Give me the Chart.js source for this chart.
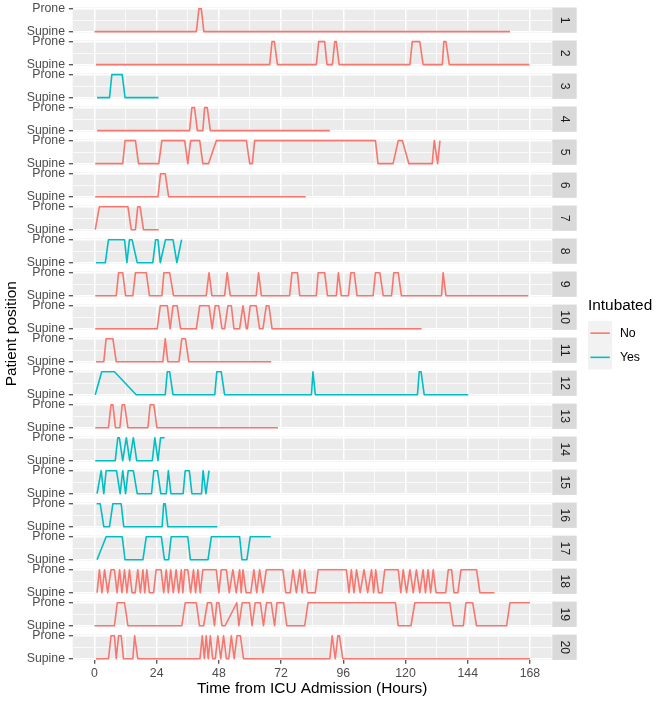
<!DOCTYPE html>
<html><head><meta charset="utf-8">
<script src="https://cdn.jsdelivr.net/npm/chart.js@4"></script>
<style>html,body{margin:0;padding:0;background:#fff}canvas{display:block}</style>
</head><body>
<canvas id="c" width="668" height="705"></canvas>
<script>
// ---------- data ----------
const patients = ['1','2','3','4','5','6','7','8','9','10','11','12','13','14','15','16','17','18','19','20'];
const intubated = ['No','No','Yes','No','No','No','No','Yes','No','No','No','Yes','No','Yes','Yes','Yes','Yes','No','No','No'];
const positionLevels = ['Supine','Prone'];
const hourTicks = [0,24,48,72,96,120,144,168];
const minorHourTicks = [12,36,60,84,108,132,156];
const groupLevels = ['No','Yes'];
const groupColors = ['#F8766D','#00BFC4'];

// [hours from ICU admission, position index (0 = Supine, 1 = Prone)]
const pos1 = [[0,0],[39.3,0],[40.3,1],[41.2,1],[42.2,0],[160.3,0]];
const pos2 = [[0.6,0],[67.6,0],[68.5,1],[69.4,1],[70.6,0],[85.6,0],[86.5,1],[88.8,1],[89.7,0],[91.8,0],[92.7,1],[93.3,1],[94.4,0],[121.7,0],[122.6,1],[125.5,1],[126.8,0],[134.2,0],[134.8,1],[135.6,1],[136.9,0],[167.8,0]];
const pos3 = [[1.0,0],[5.8,0],[6.7,1],[10.7,1],[11.8,0],[24.7,0]];
const pos4 = [[1.0,0],[36.7,0],[37.6,1],[38.6,1],[39.7,0],[41.8,0],[42.5,1],[43.5,1],[44.7,0],[90.8,0]];
const pos5 = [[0.3,0],[10.9,0],[11.8,1],[15.8,1],[17.0,0],[24.8,0],[26.0,1],[34.8,1],[36.0,0],[37.1,1],[40.6,1],[41.8,0],[44.0,0],[47.0,1],[58.6,1],[59.9,0],[60.9,0],[61.8,1],[108.4,1],[109.4,0],[115.2,0],[117.2,1],[118.8,1],[121.3,0],[130.3,0],[131.1,1],[132.4,0],[133.3,1]];
const pos6 = [[0.3,0],[24.5,0],[25.5,1],[27.3,1],[28.6,0],[81.5,0]];
const pos7 = [[0.3,0],[1.9,1],[12.9,1],[14.2,0],[15.8,0],[16.7,1],[17.6,1],[18.9,0],[24.8,0]];
const pos8 = [[0.6,0],[4.2,0],[5.4,1],[11.6,1],[12.5,0],[13.5,1],[14.5,1],[16.5,0],[22.5,0],[23.6,1],[24.5,1],[25.4,0],[27.4,1],[30.3,1],[31.8,0],[33.6,1]];
const pos9 = [[0.3,0],[8.4,0],[9.3,1],[10.9,1],[12.0,0],[14.8,0],[15.8,1],[20.0,1],[21.2,0],[26.0,0],[26.8,1],[29.0,1],[30.5,0],[43.1,0],[44.2,1],[45.3,0],[50.2,0],[51.2,1],[52.4,0],[62.4,0],[63.3,1],[64.4,0],[75.3,0],[76.2,1],[78.3,1],[79.2,0],[85.6,0],[86.3,1],[88.8,1],[89.9,0],[93.3,0],[94.1,1],[95.2,0],[98.0,0],[98.9,1],[100.2,1],[101.3,0],[107.5,0],[108.4,1],[110.1,1],[111.4,0],[114.6,0],[115.5,1],[117.2,1],[118.4,0],[133.9,0],[134.5,1],[135.6,0],[167.4,0]];
const pos10 = [[0.3,0],[24.2,0],[25.4,1],[28.1,1],[29.2,0],[30.3,1],[31.9,1],[33.2,0],[39.3,0],[40.6,1],[44.2,1],[45.4,0],[46.6,1],[47.9,1],[49.2,0],[50.2,0],[51.5,1],[52.8,1],[53.8,0],[56.0,0],[57.3,1],[58.6,0],[59.0,0],[60.1,1],[62.4,1],[63.7,0],[65.0,0],[66.3,1],[67.3,1],[68.5,0],[126.2,0]];
const pos11 = [[0.6,0],[3.6,0],[4.5,1],[7.1,1],[8.4,0],[26.4,0],[27.3,1],[28.3,0],[32.6,0],[33.7,1],[35.1,1],[36.4,0],[68.2,0]];
const pos12 = [[0.3,0],[2.8,1],[7.7,1],[16.1,0],[27.3,0],[28.1,1],[29.0,1],[30.3,0],[46.4,0],[47.2,1],[48.9,1],[50.2,0],[83.7,0],[84.3,1],[85.2,0],[124.6,0],[125.3,1],[126.0,1],[127.2,0],[144.2,0]];
const pos13 = [[0.3,0],[5.4,0],[6.4,1],[7.1,1],[8.1,0],[9.8,0],[10.7,1],[11.6,1],[12.9,0],[20.6,0],[21.5,1],[22.9,1],[24.1,0],[70.8,0]];
const pos14 = [[0.3,0],[8.0,0],[9.0,1],[9.6,1],[10.9,0],[12.3,1],[13.6,0],[15.0,1],[16.3,0],[22.3,0],[23.3,1],[24.5,0],[25.5,1],[27.1,1]];
const pos15 = [[1.0,0],[2.6,1],[3.6,0],[4.5,1],[8.5,1],[9.9,0],[10.9,1],[12.0,0],[13.0,1],[15.0,1],[16.5,0],[22.0,0],[22.9,1],[24.3,1],[25.6,0],[27.7,0],[28.5,1],[29.5,0],[34.2,0],[35.0,1],[36.6,1],[37.6,0],[41.3,0],[41.9,1],[43.0,0],[44.2,1]];
const pos16 = [[0.8,1],[2.2,1],[3.6,0],[5.8,0],[7.1,1],[10.3,1],[11.3,0],[26.1,0],[26.7,1],[27.3,1],[28.3,0],[47.4,0]];
const pos17 = [[1.0,0],[4.5,1],[10.7,1],[11.8,0],[18.7,0],[20.0,1],[25.8,1],[27.0,0],[28.6,0],[29.6,1],[36.0,1],[37.0,0],[43.8,0],[45.1,1],[56.0,1],[56.9,0],[58.8,0],[60.1,1],[68.0,1]];
const pos18 = [[1.0,0],[1.9,1],[2.9,0],[3.9,1],[5.1,0],[6.4,1],[7.7,1],[8.7,0],[9.7,1],[10.6,0],[11.6,1],[12.5,0],[13.5,1],[14.5,0],[15.7,0],[16.7,1],[17.7,0],[18.7,1],[19.4,0],[20.2,1],[21.2,0],[22.8,0],[23.8,1],[25.7,1],[26.7,0],[27.7,1],[28.5,0],[29.4,1],[30.4,0],[31.5,1],[32.5,0],[33.5,1],[34.1,0],[34.8,1],[36.0,1],[37.1,0],[38.2,1],[39.0,0],[39.9,1],[40.8,0],[41.8,1],[47.0,1],[48.0,0],[48.9,1],[50.9,1],[52.0,0],[53.4,1],[54.7,0],[56.0,1],[56.6,0],[57.3,1],[58.5,0],[60.3,0],[61.5,1],[62.6,0],[63.7,1],[65.0,0],[66.3,1],[72.7,1],[73.8,0],[75.5,0],[76.6,1],[77.9,0],[79.2,1],[80.1,0],[81.1,1],[82.2,0],[85.2,0],[86.3,1],[97.2,1],[98.2,0],[99.1,1],[100.1,0],[101.1,1],[102.5,0],[104.0,1],[105.4,0],[106.9,1],[107.7,0],[108.5,1],[109.6,0],[110.9,0],[112.0,1],[117.2,1],[118.2,0],[119.1,1],[120.4,0],[121.7,1],[123.0,0],[124.2,1],[125.5,0],[126.8,1],[127.7,0],[128.7,1],[129.7,0],[130.7,1],[131.8,0],[135.5,0],[136.5,1],[137.8,1],[138.7,0],[140.2,0],[141.4,1],[147.4,1],[148.7,0],[154.3,0]];
const pos19 = [[0,0],[7.7,0],[8.8,1],[11.6,1],[12.9,0],[33.7,0],[35.0,1],[39.3,1],[40.5,0],[42.1,0],[43.6,1],[45.1,1],[46.3,0],[47.2,1],[48.0,1],[49.2,0],[50.4,0],[54.9,1],[55.7,0],[57.0,1],[59.8,1],[60.8,0],[62.0,1],[64.0,1],[65.2,0],[66.4,1],[68.2,1],[69.5,0],[70.4,1],[73.0,1],[74.2,0],[76.6,0],[81.1,0],[82.4,1],[116.1,1],[117.2,0],[122.1,0],[123.6,1],[137.1,1],[138.4,0],[142.3,0],[143.3,1],[145.9,1],[147.4,0],[159.0,0],[160.3,1],[168.0,1]];
const pos20 = [[0.6,0],[5.4,0],[6.4,1],[7.7,1],[8.4,0],[9.3,1],[10.3,1],[11.2,0],[14.8,0],[15.5,1],[16.7,0],[40.7,0],[41.6,1],[42.4,0],[43.1,1],[43.9,0],[44.7,1],[45.6,0],[46.6,0],[47.6,1],[48.7,0],[49.8,1],[50.9,0],[51.8,0],[52.8,1],[53.9,0],[55.0,1],[56.3,1],[57.5,0],[90.8,0],[91.7,1],[92.9,0],[93.9,1],[94.5,1],[95.8,0],[168.0,0]];

const positions = [pos1,pos2,pos3,pos4,pos5,pos6,pos7,pos8,pos9,pos10,pos11,pos12,pos13,pos14,pos15,pos16,pos17,pos18,pos19,pos20];

// ---------- layout constants (facet stacking on one y scale) ----------
const EXP = 0.05;             // 5% expansion of each panel
const PITCH = 33 / 23;        // panel pitch in data units (panel + gap)
const NP = patients.length;
const offsets = patients.map((p, k) => (NP - 1 - k) * PITCH);
const FONT = "'Liberation Sans', Arial, Helvetica, sans-serif";
const SMALL = 12.3, BIG = 15.4;

const datasets = patients.map((p, k) => ({
  label: 'Patient ' + p,
  data: positions[k].map(([h, s]) => ({x: h, y: offsets[k] + s})),
  borderColor: groupColors[groupLevels.indexOf(intubated[k])],
  borderWidth: 1.6,
  pointRadius: 0,
  tension: 0,
  fill: false,
  borderJoinStyle: 'round',
  borderCapStyle: 'butt'
}));

const facetPlugin = {
  id: 'facets',
  beforeDraw(chart) {
    const {ctx, chartArea: ca, scales: {y}} = chart;
    ctx.save();
    ctx.fillStyle = '#ebebeb';
    offsets.forEach(off => {
      const t = y.getPixelForValue(off + 1 + EXP);
      const b = y.getPixelForValue(off - EXP);
      ctx.fillRect(ca.left, t, ca.right - ca.left, b - t);
    });
    ctx.restore();
  },
  afterDraw(chart) {
    const {ctx, chartArea: ca, scales: {y}} = chart;
    ctx.save();
    // strips
    const sx = ca.right + 0.6, sw = 24.4;
    offsets.forEach((off, k) => {
      const t = y.getPixelForValue(off + 1 + EXP);
      const b = y.getPixelForValue(off - EXP);
      ctx.fillStyle = '#d9d9d9';
      ctx.fillRect(sx, t, sw, b - t);
      ctx.save();
      ctx.translate(sx + sw / 2, (t + b) / 2);
      ctx.rotate(Math.PI / 2);
      ctx.fillStyle = '#1a1a1a';
      ctx.font = SMALL + 'px ' + FONT;
      ctx.textAlign = 'center';
      ctx.textBaseline = 'middle';
      ctx.fillText(patients[k], 0, 0);
      ctx.restore();
    });
    // legend
    const lx = 588;
    const cy = (ca.top + ca.bottom) / 2;
    const keyH = 24.2, titleH = 15.4, gap = 7.7;
    const total = titleH + gap + keyH * groupLevels.length;
    let top = cy - total / 2;
    ctx.fillStyle = '#000';
    ctx.font = BIG + 'px ' + FONT;
    ctx.textAlign = 'left';
    ctx.textBaseline = 'middle';
    ctx.fillText('Intubated', lx, top + titleH / 2);
    let ky = top + titleH + gap;
    groupLevels.forEach((g, i) => {
      ctx.fillStyle = '#f2f2f2';
      ctx.fillRect(lx, ky, keyH, keyH);
      ctx.strokeStyle = groupColors[i];
      ctx.lineWidth = 1.6;
      ctx.beginPath();
      ctx.moveTo(lx + 2.4, ky + keyH / 2);
      ctx.lineTo(lx + keyH - 2.4, ky + keyH / 2);
      ctx.stroke();
      ctx.fillStyle = '#000';
      ctx.font = SMALL + 'px ' + FONT;
      ctx.fillText(g, lx + keyH + 7.7, ky + keyH / 2);
      ky += keyH;
    });
    ctx.restore();
  }
};

new Chart(document.getElementById('c'), {
  type: 'line',
  data: {datasets},
  options: {
    responsive: false,
    animation: false,
    devicePixelRatio: 1,
    layout: {padding: {top: 7.5, right: 116.3, bottom: 3, left: 0}},
    plugins: {legend: {display: false}, tooltip: {enabled: false}},
    scales: {
      x: {
        type: 'linear',
        min: -8.4, max: 176.4,
        afterBuildTicks(scale) {
          scale.ticks = hourTicks.map(v => ({value: v}))
            .concat(minorHourTicks.map(v => ({value: v, minor: true})))
            .sort((a, b) => a.value - b.value);
        },
        afterFit(scale) { scale.height = 42.1; scale.paddingLeft = 0; scale.paddingRight = 0; },
        ticks: {
          autoSkip: false, maxRotation: 0, minRotation: 0, padding: 2.5,
          color: '#4d4d4d', font: {family: FONT, size: SMALL},
          callback: (v, i, ticks) => ticks[i].minor ? '' : String(v)
        },
        grid: {
          color: '#ffffff',
          lineWidth: c => (c.tick && c.tick.minor) ? 0.75 : 1.5,
          tickColor: c => (c.tick && c.tick.minor) ? 'rgba(0,0,0,0)' : '#333333',
          tickLength: 3.85,
          tickWidth: 1.1
        },
        border: {display: false},
        title: {display: true, text: 'Time from ICU Admission (Hours)', color: '#000',
                font: {family: FONT, size: BIG}, padding: {top: 4, bottom: 4}}
      },
      y: {
        type: 'linear',
        min: -EXP, max: offsets[0] + 1 + EXP,
        afterBuildTicks(scale) {
          const t = [];
          offsets.forEach(off => {
            t.push({value: off, txt: positionLevels[0]});
            t.push({value: off + 0.5, txt: '', minor: true});
            t.push({value: off + 1, txt: positionLevels[1]});
          });
          scale.ticks = t.sort((a, b) => a.value - b.value);
        },
        afterFit(scale) { scale.width = 72.7; scale.paddingTop = 0; scale.paddingBottom = 0; },
        ticks: {
          autoSkip: false, padding: 3.85,
          color: '#4d4d4d', font: {family: FONT, size: SMALL},
          callback: (v, i, ticks) => ticks[i].txt
        },
        grid: {
          color: '#ffffff',
          lineWidth: c => (c.tick && c.tick.minor) ? 0.75 : 1.5,
          tickColor: c => (c.tick && c.tick.minor) ? 'rgba(0,0,0,0)' : '#333333',
          tickLength: 3.85,
          tickWidth: 1.1
        },
        border: {display: false},
        title: {display: true, text: 'Patient position', color: '#000',
                font: {family: FONT, size: BIG}, padding: {top: 3, bottom: 4}}
      }
    }
  },
  plugins: [facetPlugin]
});
</script>
</body></html>
